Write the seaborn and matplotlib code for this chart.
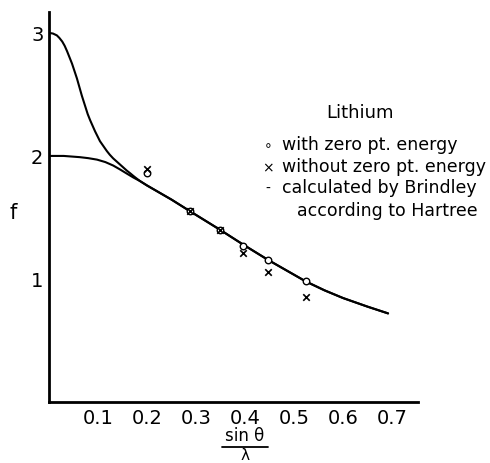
import numpy as np
import pandas as pd
import matplotlib
matplotlib.use("Agg")
import matplotlib.pyplot as plt
import seaborn as sns

# ---- data ----
# curve from Z=3 (starts at f=3)
upper_x = [0.0, 0.008, 0.016, 0.021, 0.027, 0.032, 0.037, 0.042, 0.047, 0.052,
           0.057, 0.062, 0.067, 0.071, 0.075, 0.079, 0.084, 0.089, 0.094, 0.099,
           0.104, 0.111, 0.118, 0.124, 0.131, 0.138, 0.145, 0.152, 0.159, 0.166,
           0.172, 0.179, 0.186]
upper_f = [3.0, 2.995, 2.98, 2.96, 2.93, 2.895, 2.85, 2.80, 2.75, 2.69,
           2.63, 2.56, 2.49, 2.44, 2.39, 2.34, 2.29, 2.245, 2.20, 2.16,
           2.12, 2.08, 2.04, 2.01, 1.98, 1.955, 1.93, 1.905, 1.88, 1.858,
           1.838, 1.816, 1.795]
# curve starting at f=2
lower_x = [0.0, 0.03, 0.063, 0.08, 0.098, 0.115, 0.131, 0.145, 0.159, 0.172, 0.186]
lower_f = [2.0, 2.0, 1.99, 1.982, 1.97, 1.95, 1.922, 1.89, 1.856, 1.825, 1.795]
# common part of both curves
tail_x = [0.2, 0.25, 0.288, 0.349, 0.396, 0.447, 0.524, 0.562, 0.6, 0.65, 0.692]
tail_f = [1.76, 1.645, 1.55, 1.40, 1.28, 1.155, 0.98, 0.908, 0.845, 0.775, 0.72]

pts_x = [0.2, 0.288, 0.349, 0.396, 0.447, 0.524]
with_zpe = [1.86, 1.55, 1.40, 1.27, 1.155, 0.98]
without_zpe = [1.89, 1.55, 1.40, 1.21, 1.06, 0.85]

x_ticks = [0.1, 0.2, 0.3, 0.4, 0.5, 0.6, 0.7]
x_ticklabels = ["0.1", "0.2", "0.3", "0.4", "0.5", "0.6", "0.7"]
y_ticks = [1, 2, 3]
y_ticklabels = ["1", "2", "3"]

legend_title = "Lithium"
legend_lines = ["with zero pt. energy", "without zero pt. energy",
                "calculated by Brindley", "according to Hartree"]

# ---- build tables ----
curves = pd.concat([
    pd.DataFrame({"x": upper_x + tail_x, "f": upper_f + tail_f, "curve": "upper"}),
    pd.DataFrame({"x": lower_x + tail_x, "f": lower_f + tail_f, "curve": "lower"}),
], ignore_index=True)
pts = pd.DataFrame({"x": pts_x, "with": with_zpe, "without": without_zpe})

sns.set_style("white")
plt.rcParams["font.family"] = ["DejaVu Sans"]
plt.rcParams["text.color"] = "black"

fig = plt.figure(figsize=(4.9, 4.64), dpi=100)
ax = fig.add_axes([0.1, 0.1315, 0.753, 0.8405])

sns.lineplot(data=curves, x="x", y="f", units="curve", estimator=None, sort=False,
             color="black", linewidth=1.5, ax=ax)
sns.scatterplot(data=pts, x="x", y="with", marker="o", s=22, facecolor="white",
                edgecolor="black", linewidth=1.0, zorder=4, ax=ax)
sns.scatterplot(data=pts, x="x", y="without", marker="x", s=22, color="black",
                linewidth=1.2, zorder=5, ax=ax)

ax.set_xlim(0, 0.753)
ax.set_ylim(0, 3.17)
ax.set_xlabel("")
ax.set_ylabel("")
for s in ["top", "right"]:
    ax.spines[s].set_visible(False)
for s in ["left", "bottom"]:
    ax.spines[s].set_linewidth(2.0)
    ax.spines[s].set_color("black")

ax.set_xticks(x_ticks)
ax.set_xticklabels(x_ticklabels)
ax.set_yticks(y_ticks)
ax.set_yticklabels(y_ticklabels)
ax.tick_params(axis="both", direction="in", length=8.5, width=1.5, colors="black",
               labelsize=14, pad=4)
# longer tick at f = 3
ax.yaxis.get_major_ticks()[2].tick1line.set_markersize(14)

# y label
fig.text(13 / 490, 1 - 213 / 464, "f", fontsize=15, ha="center", va="center")
# x label  sin θ / λ
fig.text(245 / 490, 1 - 441 / 464, "sin θ", fontsize=12, ha="center", va="baseline")
fig.add_artist(plt.Line2D([222 / 490, 268 / 490], [1 - 448 / 464, 1 - 448 / 464],
                          color="black", linewidth=1.3))
fig.text(245 / 490, 1 / 464, "λ", fontsize=11, ha="center", va="bottom")

# legend-like annotation
fig.text(360 / 490, 1 - 118 / 464, legend_title, fontsize=13, ha="center", va="baseline")
symbols = ["∘", "×", "-", ""]
baselines = [150, 172, 193, 216]
text_x = [282, 282, 282, 297]
for sym, line, b, tx in zip(symbols, legend_lines, baselines, text_x):
    if sym:
        fig.text(268 / 490, 1 - b / 464, sym, fontsize=10, ha="center", va="baseline")
    fig.text(tx / 490, 1 - b / 464, line, fontsize=12.5, ha="left", va="baseline")

fig.savefig("out.png", dpi=100)
